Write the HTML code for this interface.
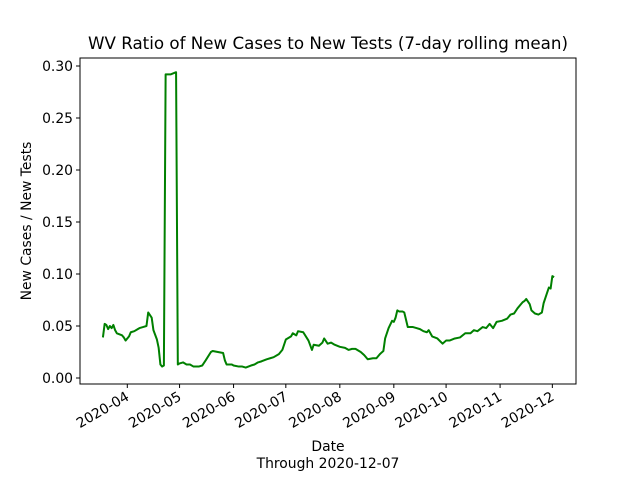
<!DOCTYPE html>
<html><head><meta charset="utf-8"><style>
body{margin:0;background:#fff;font-family:"DejaVu Sans","Liberation Sans",sans-serif}
svg text{font-family:"DejaVu Sans","Liberation Sans",sans-serif;fill:#000}
</style></head><body>
<svg id="c" width="640" height="480" xmlns="http://www.w3.org/2000/svg"></svg>
<script>
const days=[-14,-13,-12,-11,-10,-9,-8,-7,-6,-3,-2,-1,1,2,4,6,7,9,11,12,14,15,17,18,19,20,21,22,25,28,29,30,32,34,36,38,41,43,45,48,49,52,55,56,57,60,61,64,66,68,71,73,75,77,80,82,84,87,89,91,94,95,97,98,101,104,106,107,110,112,113,115,117,119,122,125,127,129,131,134,136,138,141,143,145,147,148,150,152,153,154,155,156,158,159,161,164,166,168,170,172,173,175,178,181,183,185,188,191,194,197,199,201,204,206,208,210,212,215,218,220,222,224,226,227,228,229,231,232,234,236,238,239,241,242,243,244,245];
const ratios=[.039,.052,.051,.047,.050,.048,.051,.046,.043,.041,.039,.036,.040,.044,.045,.047,.048,.049,.050,.063,.058,.046,.037,.029,.013,.011,.012,.292,.292,.294,.013,.014,.015,.013,.013,.011,.011,.012,.017,.025,.026,.025,.024,.017,.013,.013,.012,.011,.011,.010,.012,.013,.015,.016,.018,.019,.020,.023,.027,.037,.040,.043,.041,.045,.044,.036,.027,.032,.031,.034,.038,.033,.034,.032,.030,.029,.027,.028,.028,.025,.022,.018,.019,.019,.023,.026,.038,.048,.055,.054,.058,.065,.064,.064,.063,.049,.049,.048,.047,.045,.044,.046,.040,.038,.033,.036,.036,.038,.039,.043,.043,.046,.045,.049,.048,.052,.048,.054,.055,.057,.061,.062,.067,.071,.073,.074,.076,.071,.065,.062,.061,.063,.072,.082,.087,.086,.098,.097];
const yTicks=[0,0.05,0.10,0.15,0.20,0.25,0.30];
const xTickLabels=["2020-04","2020-05","2020-06","2020-07","2020-08","2020-09","2020-10","2020-11","2020-12"];
const xTickDays=[0,30,61,91,122,153,183,214,244];
const L=80,R=576,T=58,B=384;
const X=d=>127.3+d*1.742;
const Y=v=>378-v*1040;
const s=document.getElementById('c');const NS="http://www.w3.org/2000/svg";
function mk(t,a,txt){const e=document.createElementNS(NS,t);for(const k in a)e.setAttribute(k,a[k]);if(txt!==undefined)e.textContent=txt;s.appendChild(e);return e;}
let e;
e=mk('rect',{x:L,y:T,width:R-L,height:B-T,fill:'none',stroke:'#000','stroke-width':1});


yTicks.forEach(v=>{
 e=mk('line',{x1:L-4,x2:L,y1:Y(v),y2:Y(v),stroke:'#000'});
 
 
 e=mk('text',{x:L-7,y:Y(v)+5,'text-anchor':'end','font-size':13.9},v.toFixed(2));
 
 
});
xTickDays.forEach((d,i)=>{
 const x=X(d);
 e=mk('line',{x1:x,x2:x,y1:B,y2:B+4,stroke:'#000'});
 
 
 e=mk('text',{x:x-2,y:B+7,'text-anchor':'end','dominant-baseline':'hanging','font-size':13.9,transform:`rotate(-30 ${x-2} ${B+7})`},xTickLabels[i]);
 
 
});
e=mk('polyline',{points:days.map((d,i)=>X(d)+','+Y(ratios[i])).join(' '),fill:'none',stroke:'#008000','stroke-width':2,'stroke-linejoin':'round'});


e=mk('text',{x:328,y:49,'text-anchor':'middle','font-size':16.7},'WV Ratio of New Cases to New Tests (7-day rolling mean)');


e=mk('text',{x:31,y:221,'text-anchor':'middle','font-size':13.9,transform:'rotate(-90 31 221)'},'New Cases / New Tests');


e=mk('text',{x:328,y:451,'text-anchor':'middle','font-size':13.9},'Date');


e=mk('text',{x:328,y:468,'text-anchor':'middle','font-size':13.9},'Through 2020-12-07');


</script>
</body></html>
